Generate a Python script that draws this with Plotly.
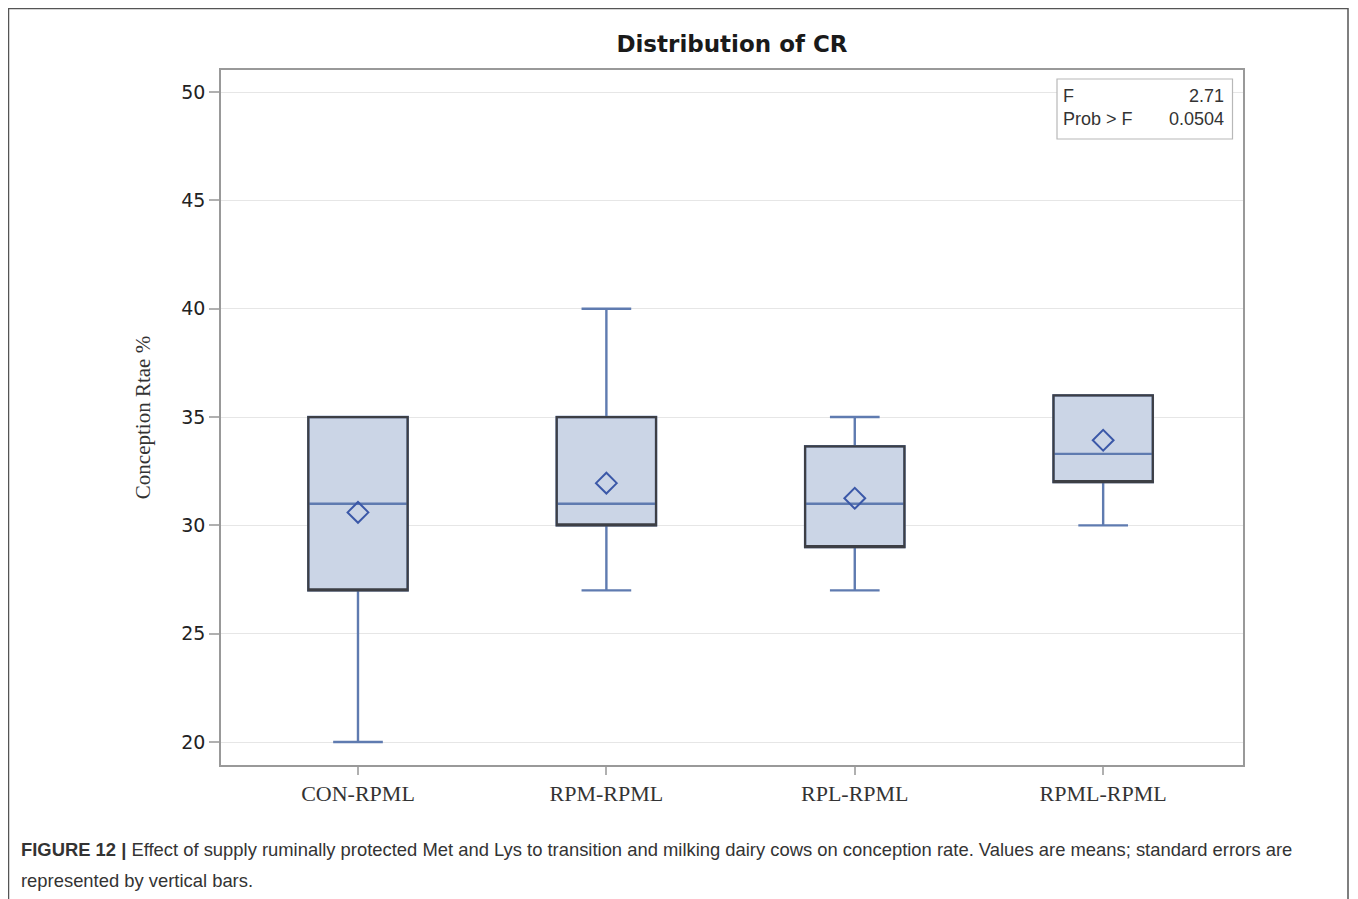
import plotly.graph_objects as go

categories = ["CON-RPML", "RPM-RPML", "RPL-RPML", "RPML-RPML"]
minimum = [20, 27, 27, 30]
q1 = [27, 30, 29, 32]
median = [31, 31, 31, 33.3]
q3 = [35, 35, 33.65, 36]
maximum = [35, 40, 35, 36]
mean = [30.6, 31.95, 31.25, 33.93]
y_ticks = [20, 25, 30, 35, 40, 45, 50]
stat_labels = ["F", "Prob > F"]
stat_values = ["2.71", "0.0504"]

xpos = list(range(len(categories)))

OFF = 8  # page body margin
W, H = 1358 - 2 * OFF, 899 - OFF
# plot-area edges in reference-screen pixels
L, R, T, B = 221, 1243, 70, 765
pw, ph = R - L, B - T


def px(x):
    return (x - L) / pw


def py(y):
    return (B - y) / ph


fig = go.Figure()

fig.add_trace(go.Box(
    x=xpos, q1=q1, median=median, q3=q3,
    lowerfence=minimum, upperfence=maximum,
    width=0.4, whiskerwidth=0.5,
    fillcolor="#cbd5e6",
    line=dict(color="#5f7bb0", width=2.4),
    boxpoints=False, hoverinfo="skip", showlegend=False,
))
fig.add_trace(go.Box(
    x=xpos, q1=q1, median=q1, q3=q3,
    lowerfence=q1, upperfence=q3,
    width=0.4, whiskerwidth=0,
    fillcolor="rgba(0,0,0,0)",
    line=dict(color="#3d3f45", width=2.2),
    boxpoints=False, hoverinfo="skip", showlegend=False,
))
fig.add_trace(go.Scatter(
    x=xpos, y=mean, mode="markers",
    marker=dict(symbol="diamond-open", size=16, color="#3b58a8",
                line=dict(width=2, color="#3b58a8")),
    hoverinfo="skip", showlegend=False,
))

fig.update_layout(
    width=W, height=H,
    margin=dict(l=L - OFF, r=W - (R - OFF), t=T - OFF, b=H - (B - OFF)),
    paper_bgcolor="white", plot_bgcolor="white",
    title=dict(text="<b>Distribution of CR</b>", xref="paper", x=0.5, xanchor="center",
               y=1 - (44 - OFF) / H, yanchor="middle",
               font=dict(family="DejaVu Sans", size=23, color="#1a1a1a")),
    xaxis=dict(
        range=[-0.5515, 3.563], tickmode="array", tickvals=xpos, ticktext=categories,
        showgrid=False, zeroline=False, showline=True, linecolor="#999999", linewidth=1.5,
        mirror=True, ticks="outside", ticklen=8, tickcolor="#b0b0b0", tickwidth=1.5,
        tickfont=dict(family="Liberation Serif", size=22, color="#333333"),
    ),
    yaxis=dict(
        range=[18.94, 51.02], tickmode="array", tickvals=y_ticks,
        showgrid=True, gridcolor="#e6e6e6", gridwidth=1, zeroline=False,
        showline=True, linecolor="#999999", linewidth=1.5, mirror=True,
        ticks="outside", ticklen=10, tickcolor="#b0b0b0", tickwidth=1.5,
        tickfont=dict(family="DejaVu Sans", size=19, color="#222222"),
        title=dict(text="Conception Rtae %", standoff=25,
                   font=dict(family="Liberation Serif", size=21, color="#333333")),
    ),
)

fig.add_shape(type="rect", xref="paper", yref="paper",
              x0=px(1057), x1=px(1232.5), y0=py(139), y1=py(79),
              line=dict(color="#b8b8b8", width=1.2), fillcolor="white")
fig.add_annotation(xref="paper", yref="paper", x=px(1061), y=py(107), xanchor="left", yanchor="middle",
                   text="<br>".join(stat_labels), showarrow=False, align="left",
                   font=dict(family="Liberation Sans", size=18, color="#333333"))
fig.add_annotation(xref="paper", yref="paper", x=px(1226), y=py(107), xanchor="right", yanchor="middle",
                   text="<br>".join(stat_values), showarrow=False, align="right",
                   font=dict(family="Liberation Sans", size=18, color="#333333"))

fig.add_shape(type="rect", xref="paper", yref="paper",
              x0=px(8.5), x1=px(1348), y0=py(915), y1=py(8.5),
              line=dict(color="#555555", width=1.5))

caption1 = ("<b>FIGURE 12 |</b> Effect of supply ruminally protected Met and Lys to transition and milking "
            "dairy cows on conception rate. Values are means; standard errors are")
caption2 = "represented by vertical bars."
fig.add_annotation(xref="paper", yref="paper", x=px(19), y=py(849), xanchor="left", yanchor="middle",
                   text=caption1, showarrow=False, align="left",
                   font=dict(family="Liberation Sans", size=18.4, color="#333333"))
fig.add_annotation(xref="paper", yref="paper", x=px(19), y=py(880), xanchor="left", yanchor="middle",
                   text=caption2, showarrow=False, align="left",
                   font=dict(family="Liberation Sans", size=18.4, color="#333333"))

fig.write_html("out.html")
